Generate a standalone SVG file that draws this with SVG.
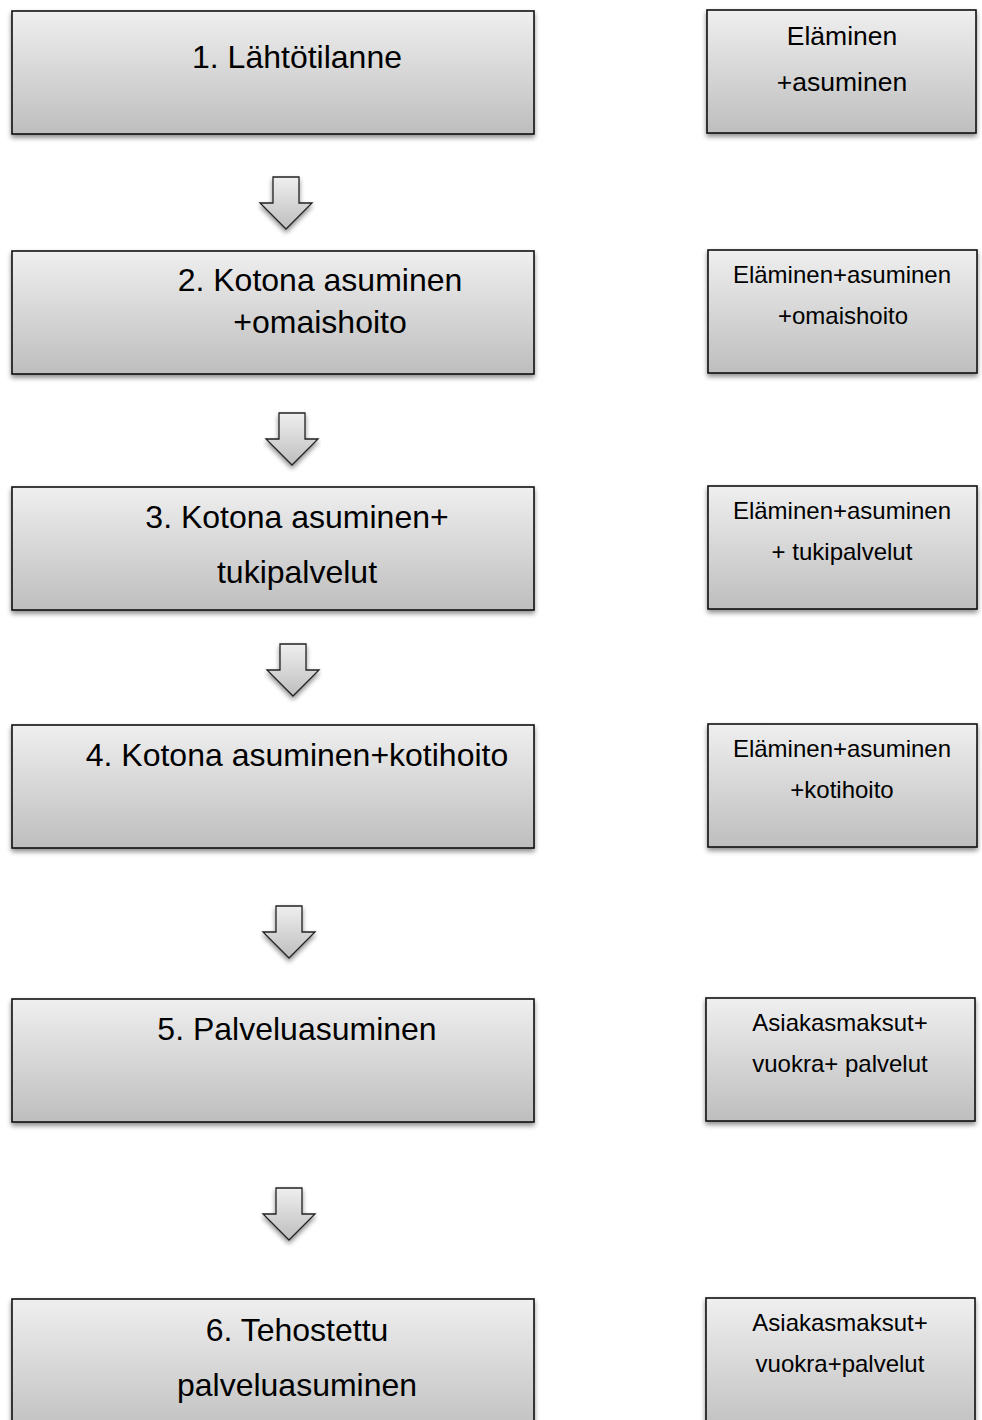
<svg xmlns="http://www.w3.org/2000/svg" width="982" height="1420" viewBox="0 0 982 1420">
<defs>
<linearGradient id="g" x1="0" y1="0" x2="0" y2="1">
<stop offset="0" stop-color="#efefef"/>
<stop offset="1" stop-color="#bebebe"/>
</linearGradient>
<filter id="sh" x="-5%" y="-10%" width="110%" height="130%">
<feGaussianBlur in="SourceAlpha" stdDeviation="2.5"/>
<feOffset dx="0" dy="3" result="b"/>
<feComponentTransfer><feFuncA type="linear" slope="0.45"/></feComponentTransfer>
<feMerge><feMergeNode/><feMergeNode in="SourceGraphic"/></feMerge>
</filter>
<path id="arr" d="M-13,0 H13 V26 H26 L0,52 L-26,26 H-13 Z"/>
</defs>
<style>
.box{fill:url(#g);stroke:#111;stroke-width:1.6;filter:url(#sh)}
.arrow{fill:url(#g);stroke:#222;stroke-width:1.3;stroke-linejoin:miter;filter:url(#sh)}
.t{font-family:"Liberation Sans",Arial,sans-serif;fill:#000;text-anchor:middle}
.big{font-size:32px}
.sm{font-size:24px}
.md{font-size:26.5px}
</style>
<rect width="982" height="1420" fill="#fff"/>
<g id="connectors">
<use href="#arr" class="arrow" x="286" y="177"/>
<use href="#arr" class="arrow" x="292" y="413"/>
<use href="#arr" class="arrow" x="293" y="644"/>
<use href="#arr" class="arrow" x="289" y="906"/>
<use href="#arr" class="arrow" x="289" y="1188"/>
</g>
<g id="n1"><rect class="box" x="12" y="11" width="522" height="123"/><text class="t big" x="297" y="68">1. Lähtötilanne</text></g>
<g id="n2"><rect class="box" x="12" y="251" width="522" height="123"/><text class="t big" x="320" y="291">2. Kotona asuminen</text><text class="t big" x="320" y="333">+omaishoito</text></g>
<g id="n3"><rect class="box" x="12" y="487" width="522" height="123"/><text class="t big" x="297" y="528">3. Kotona asuminen+</text><text class="t big" x="297" y="583">tukipalvelut</text></g>
<g id="n4"><rect class="box" x="12" y="725" width="522" height="123"/><text class="t big" x="297" y="766">4. Kotona asuminen+kotihoito</text></g>
<g id="n5"><rect class="box" x="12" y="999" width="522" height="123"/><text class="t big" x="297" y="1040">5. Palveluasuminen</text></g>
<g id="n6"><rect class="box" x="12" y="1299" width="522" height="140"/><text class="t big" x="297" y="1341">6. Tehostettu</text><text class="t big" x="297" y="1396">palveluasuminen</text></g>
<g id="r1"><rect class="box" x="707" y="10" width="269" height="123"/><text class="t md" x="842" y="45">Eläminen</text><text class="t md" x="842" y="91">+asuminen</text></g>
<g id="r2"><rect class="box" x="708" y="250" width="269" height="123"/><text class="t sm" x="842" y="283">Eläminen+asuminen</text><text class="t sm" x="843" y="324">+omaishoito</text></g>
<g id="r3"><rect class="box" x="708" y="486" width="269" height="123"/><text class="t sm" x="842" y="519">Eläminen+asuminen</text><text class="t sm" x="842" y="560">+ tukipalvelut</text></g>
<g id="r4"><rect class="box" x="708" y="724" width="269" height="123"/><text class="t sm" x="842" y="757">Eläminen+asuminen</text><text class="t sm" x="842" y="798">+kotihoito</text></g>
<g id="r5"><rect class="box" x="706" y="998" width="269" height="123"/><text class="t sm" x="840" y="1031">Asiakasmaksut+</text><text class="t sm" x="840" y="1072">vuokra+ palvelut</text></g>
<g id="r6"><rect class="box" x="706" y="1298" width="269" height="140"/><text class="t sm" x="840" y="1331">Asiakasmaksut+</text><text class="t sm" x="840" y="1372">vuokra+palvelut</text></g>
</svg>
